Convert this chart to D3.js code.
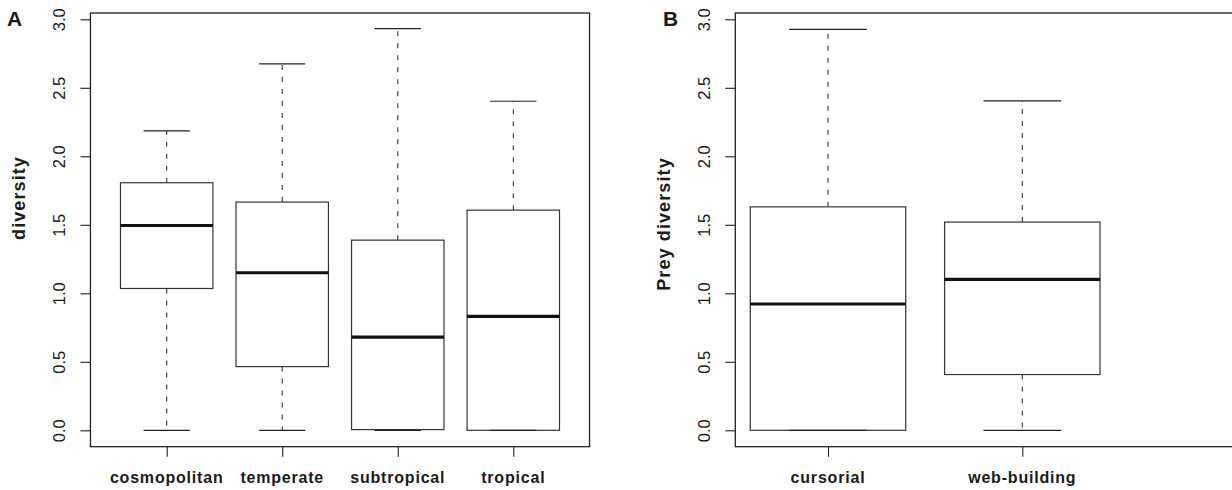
<!DOCTYPE html>
<html lang="en">
<head>
  <meta charset="UTF-8">
  <script src="https://d3js.org/d3.v7.min.js"></script>
  <style>
    body { margin: 0; background: white; }
    text { font-family: "Liberation Sans", Arial, sans-serif; fill: #1a1a1a; }
    .frame { fill: none; stroke: #222; stroke-width: 1.3; }
    .box { fill: white; stroke: #333; stroke-width: 1.2; }
    .median { stroke: #111; stroke-width: 3.2; }
    .whisker { stroke: #333; stroke-width: 1.1; stroke-dasharray: 5 7; }
    .cap { stroke: #222; stroke-width: 1.2; }
    .tick line { stroke: #222; stroke-width: 1.1; }
    .ylab text { font-size: 16.5px; }
    .xlab { font-size: 16px; font-weight: bold; letter-spacing: 0.8px; }
    .title { font-size: 18px; font-weight: bold; letter-spacing: 1.1px; }
    .panel { font-size: 21px; font-weight: bold; }
  </style>
</head>
<body>
  <script>
    const width = 1232, height = 490;

    // panel A: diversity by region
    const regions = ["cosmopolitan", "temperate", "subtropical", "tropical"];
    const regionMin = [0, 0, 0, 0];
    const regionQ1 = [1.035, 0.465, 0.005, 0];
    const regionMedian = [1.495, 1.15, 0.68, 0.832];
    const regionQ3 = [1.807, 1.666, 1.388, 1.607];
    const regionMax = [2.185, 2.675, 2.932, 2.402];

    // panel B: prey diversity by hunting strategy
    const strategies = ["cursorial", "web-building"];
    const strategyMin = [0, 0];
    const strategyQ1 = [0, 0.407];
    const strategyMedian = [0.922, 1.101];
    const strategyQ3 = [1.631, 1.52];
    const strategyMax = [2.927, 2.404];

    const yTicks = [0, 0.5, 1.0, 1.5, 2.0, 2.5, 3.0];

    const svg = d3.select("body").append("svg").attr("width", width).attr("height", height);

    const plotTop = 13, plotBottom = 446.7;
    const y = d3.scaleLinear().domain([0, 3]).range([430.3, 19.3]);

    function drawPanel(opts) {
      const g = svg.append("g");
      const x = opts.x;
      const rows = opts.names.map((name, i) => ({
        name, pos: i + 1,
        min: opts.min[i], q1: opts.q1[i], med: opts.med[i], q3: opts.q3[i], max: opts.max[i]
      }));
      const bw = x(1.8) - x(1);
      const cw = bw / 2;

      // y axis with rotated labels
      const yAxis = g.append("g")
        .attr("class", "ylab")
        .attr("transform", `translate(${opts.left},0)`)
        .call(d3.axisLeft(y).tickValues(yTicks).tickSize(10).tickFormat(d3.format(".1f")));
      yAxis.attr("font-family", null).attr("font-size", null);
      yAxis.select(".domain").remove();
      yAxis.selectAll("text")
        .attr("x", null).attr("dy", null)
        .attr("text-anchor", "middle")
        .attr("transform", "translate(-25,0) rotate(-90)");

      // x axis ticks at group centres
      const xAxis = g.append("g")
        .attr("transform", `translate(0,${plotBottom})`)
        .call(d3.axisBottom(x).tickValues(rows.map(d => d.pos)).tickSize(10).tickFormat(""));
      xAxis.select(".domain").remove();

      g.selectAll(".xlab")
        .data(rows)
        .join("text")
        .attr("class", "xlab")
        .attr("x", d => x(d.pos))
        .attr("y", 483)
        .attr("text-anchor", "middle")
        .text(d => d.name);

      // whiskers
      g.selectAll(".whisker-up")
        .data(rows)
        .join("line")
        .attr("class", "whisker")
        .attr("x1", d => x(d.pos)).attr("x2", d => x(d.pos))
        .attr("y1", d => y(d.q3)).attr("y2", d => y(d.max));
      g.selectAll(".whisker-down")
        .data(rows)
        .join("line")
        .attr("class", "whisker")
        .attr("x1", d => x(d.pos)).attr("x2", d => x(d.pos))
        .attr("y1", d => y(d.q1)).attr("y2", d => y(d.min));

      // caps
      g.selectAll(".cap-top")
        .data(rows)
        .join("line")
        .attr("class", "cap")
        .attr("x1", d => x(d.pos) - cw / 2).attr("x2", d => x(d.pos) + cw / 2)
        .attr("y1", d => y(d.max)).attr("y2", d => y(d.max));

      // boxes
      g.selectAll(".box")
        .data(rows)
        .join("rect")
        .attr("class", "box")
        .attr("x", d => x(d.pos) - bw / 2)
        .attr("width", bw)
        .attr("y", d => y(d.q3))
        .attr("height", d => y(d.q1) - y(d.q3));

      g.selectAll(".cap-bottom")
        .data(rows)
        .join("line")
        .attr("class", "cap")
        .attr("x1", d => x(d.pos) - cw / 2).attr("x2", d => x(d.pos) + cw / 2)
        .attr("y1", d => y(d.min)).attr("y2", d => y(d.min));

      g.selectAll(".median")
        .data(rows)
        .join("line")
        .attr("class", "median")
        .attr("x1", d => x(d.pos) - bw / 2).attr("x2", d => x(d.pos) + bw / 2)
        .attr("y1", d => y(d.med)).attr("y2", d => y(d.med));

      // frame
      g.append("rect")
        .attr("class", "frame")
        .attr("x", opts.left).attr("y", plotTop)
        .attr("width", opts.right - opts.left)
        .attr("height", plotBottom - plotTop);

      // axis title
      g.append("text")
        .attr("class", "title")
        .attr("text-anchor", "middle")
        .attr("transform", `translate(${opts.titleX},${opts.titleY}) rotate(-90)`)
        .text(opts.title);

      // panel letter
      g.append("text")
        .attr("class", "panel")
        .attr("x", opts.letterX).attr("y", 26)
        .text(opts.letter);
    }

    const xA = d3.scaleLinear().domain([1, 4]).range([166.7, 513.3]);
    drawPanel({
      x: xA, names: regions, min: regionMin, q1: regionQ1, med: regionMedian, q3: regionQ3, max: regionMax,
      left: xA(0.34), right: xA(4.66), title: "diversity", titleX: 25, titleY: 198, letter: "A", letterX: 7
    });

    const xB = d3.scaleLinear().domain([1, 2]).range([828, 1022.3]);
    drawPanel({
      x: xB, names: strategies, min: strategyMin, q1: strategyQ1, med: strategyMedian, q3: strategyQ3, max: strategyMax,
      left: 735.3, right: width + 20, title: "Prey diversity", titleX: 670, titleY: 224, letter: "B", letterX: 663
    });
  </script>
</body>
</html>
